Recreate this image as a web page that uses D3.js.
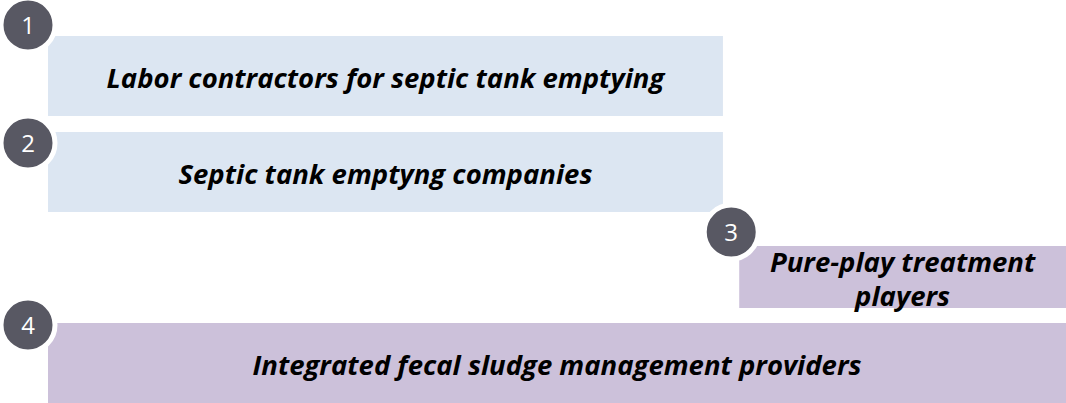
<!DOCTYPE html>
<html>
<head>
<meta charset="utf-8">
<script src="https://cdn.jsdelivr.net/npm/d3@7"></script>
<style>
  html, body { margin: 0; padding: 0; background: #fff; }
  svg { display: block; }
</style>
</head>
<body>
<div id="chart"></div>
<script>
// stages of the fecal sludge value chain
const stageNumbers = [1, 2, 3, 4];
const stageLabels = [
    ["Labor contractors for septic tank emptying"],
    ["Septic tank emptyng companies"],
    ["Pure-play treatment", "players"],
    ["Integrated fecal sludge management providers"]
];
// share of the value chain covered (0 = emptying, 1 = treatment)
const stageStart = [0, 0, 0.679, 0];
const stageEnd = [0.663, 0.663, 1, 1];
const stageGroup = ["emptying", "emptying", "treatment", "integrated"];

const width = 1066, height = 403;
const rows = [
    { top: 36, h: 80, cy: 25 },
    { top: 132, h: 80, cy: 143 },
    { top: 246, h: 62, cy: 232 },
    { top: 323, h: 80, cy: 325 }
];

const x = d3.scaleLinear().domain([0, 1]).range([48, width]);
const color = d3.scaleOrdinal()
    .domain(["emptying", "treatment", "integrated"])
    .range(["#dce6f2", "#ccc1da", "#ccc1da"]);

const data = stageNumbers.map((n, i) => ({
    n, lines: stageLabels[i], x0: stageStart[i], x1: stageEnd[i], group: stageGroup[i], ...rows[i]
}));

const svg = d3.select("#chart").append("svg").attr("width", width).attr("height", height);

svg.selectAll("rect.stage")
    .data(data)
    .join("rect")
    .attr("class", "stage")
    .attr("x", d => x(d.x0))
    .attr("y", d => d.top)
    .attr("width", d => x(d.x1) - x(d.x0))
    .attr("height", d => d.h)
    .attr("fill", d => color(d.group));

const lineH = 34;
svg.selectAll("text.label")
    .data(data)
    .join("text")
    .attr("class", "label")
    .attr("text-anchor", "middle")
    .style("font-family", "'Open Sans', sans-serif")
    .style("font-weight", "bold")
    .style("font-style", "italic")
    .style("font-size", "27.5px")
    .attr("fill", "#000")
    .each(function(d) {
        const cx = (x(d.x0) + x(d.x1)) / 2;
        const cy = d.top + d.h / 2 + 2;
        const off = -(d.lines.length - 1) * lineH / 2;
        d3.select(this).selectAll("tspan")
            .data(d.lines)
            .join("tspan")
            .attr("x", cx)
            .attr("y", (l, j) => cy + off + j * lineH)
            .attr("dy", "0.35em")
            .text(l => l);
    });

// number badges
const badges = svg.selectAll("g.badge")
    .data(data)
    .join("g")
    .attr("class", "badge")
    .attr("transform", d => `translate(${d.n === 3 ? x(d.x0) - 8 : 28},${d.cy})`);

badges.append("circle")
    .attr("r", 27)
    .attr("fill", "#585863")
    .attr("stroke", "#fff")
    .attr("stroke-width", 5);

badges.append("text")
    .attr("text-anchor", "middle")
    .attr("dy", "0.36em")
    .style("font-family", "'Open Sans', sans-serif")
    .style("font-size", "24px")
    .attr("fill", "#fff")
    .text(d => d.n);
</script>
</body>
</html>
